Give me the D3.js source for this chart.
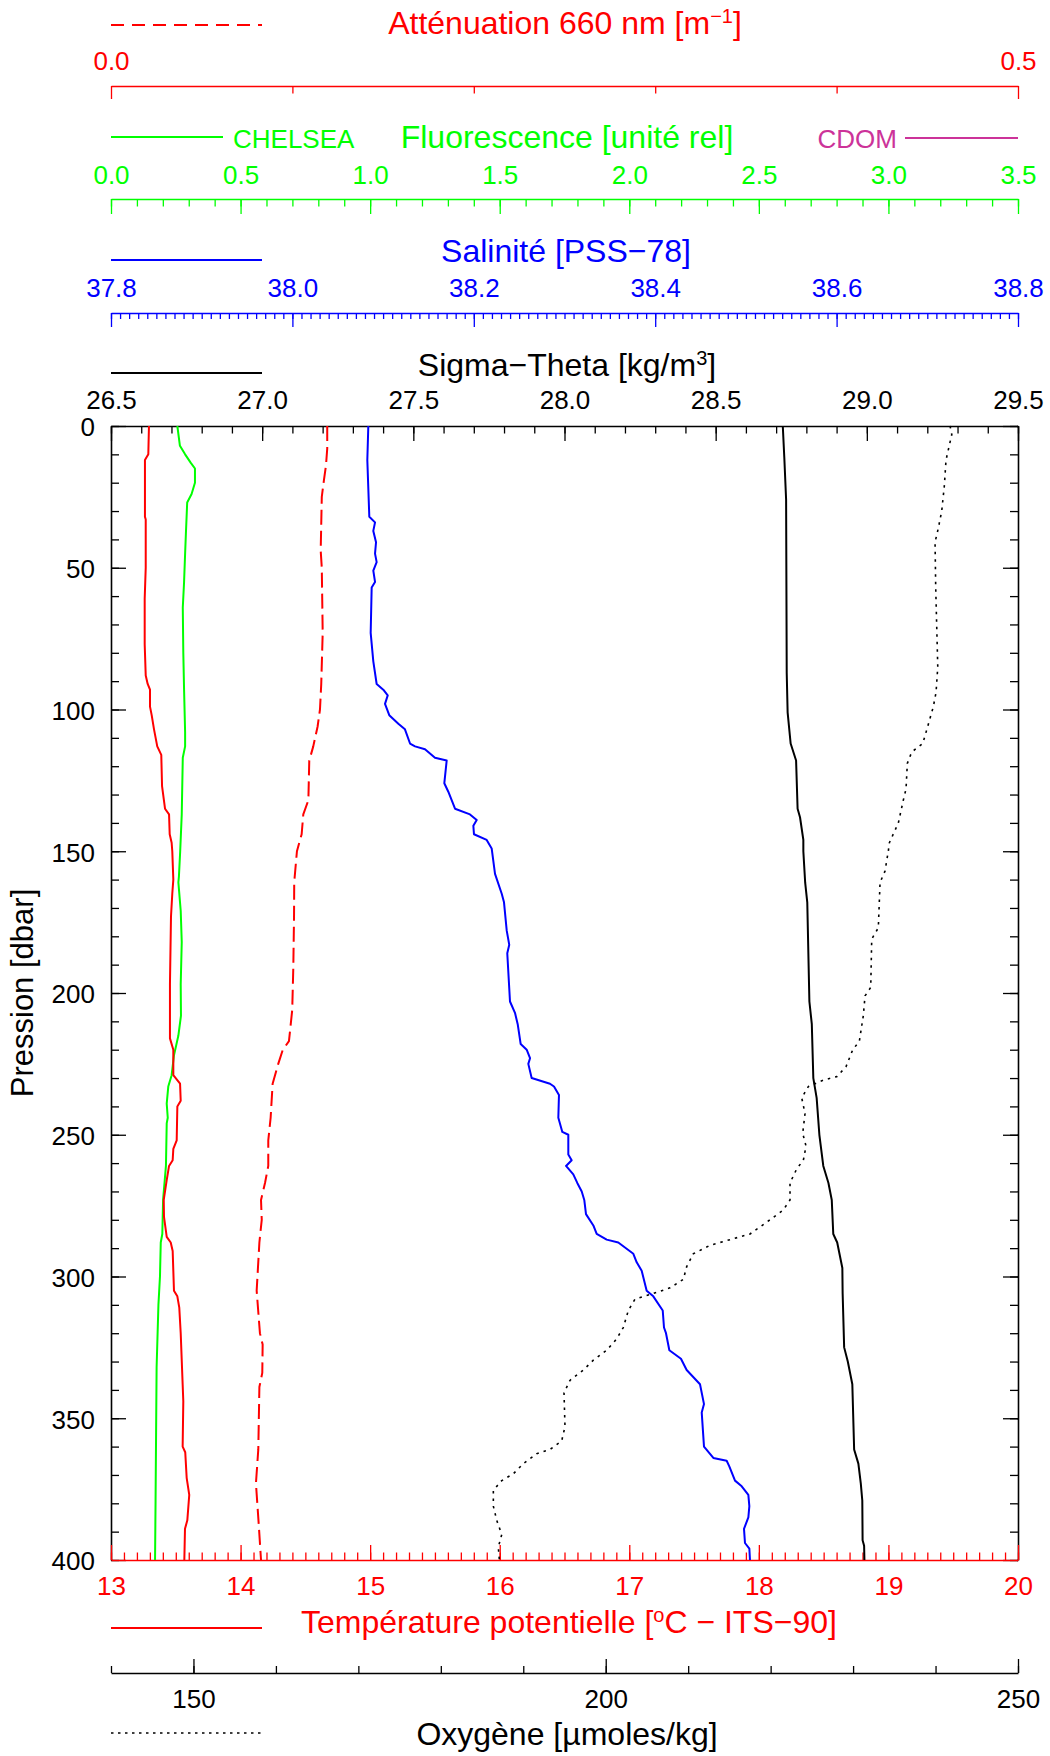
<!DOCTYPE html>
<html><head><meta charset="utf-8">
<script src="https://cdn.jsdelivr.net/npm/d3@7"></script>
<style>
html,body{margin:0;padding:0;background:#fff;}
svg text{font-family:"Liberation Sans",Arial,Helvetica,sans-serif;}
</style></head><body>
<svg id="chart" width="1050" height="1756"></svg>
<script>
// ---------- DATA: [pressure (dbar), value] ----------
const temperature = [[0,13.293],[10,13.288],[12,13.262],[32,13.262],[33,13.268],[50,13.268],[61,13.260],[77,13.260],[88,13.268],[91,13.283],[93,13.301],[99,13.301],[102,13.314],[107,13.332],[113,13.357],[116,13.388],[127,13.394],[135,13.417],[137,13.448],[144,13.453],[147,13.468],[150,13.473],[160,13.481],[165,13.473],[173,13.463],[197,13.455],[216,13.455],[220,13.481],[229,13.481],[232,13.533],[238,13.538],[240,13.512],[252,13.507],[255,13.481],[259,13.476],[261,13.448],[266,13.430],[273,13.407],[279,13.409],[286,13.430],[288,13.461],[291,13.476],[305,13.486],[307,13.512],[311,13.527],[320,13.538],[338,13.553],[344,13.558],[360,13.553],[362,13.573],[371,13.584],[377,13.604],[386,13.589],[389,13.571],[400,13.566]];
const fluorescence = [[0,0.256],[7,0.266],[10,0.286],[13,0.308],[15,0.324],[20,0.324],[24,0.311],[27,0.294],[38,0.289],[45,0.286],[55,0.282],[64,0.277],[80,0.279],[93,0.282],[108,0.286],[113,0.286],[117,0.277],[137,0.273],[150,0.267],[159,0.262],[161,0.260],[171,0.269],[182,0.273],[197,0.269],[208,0.270],[215,0.260],[222,0.243],[229,0.234],[233,0.221],[239,0.215],[244,0.219],[246,0.215],[261,0.212],[273,0.201],[285,0.198],[288,0.192],[300,0.189],[310,0.183],[332,0.176],[355,0.174],[379,0.172],[400,0.170]];
const attenuation = [[0,0.1192],[8,0.1192],[14,0.1185],[19,0.1174],[25,0.1162],[44,0.1156],[50,0.1162],[73,0.1167],[91,0.1159],[100,0.1152],[106,0.1139],[113,0.1115],[118,0.1093],[132,0.1088],[137,0.1060],[144,0.1051],[150,0.1025],[161,0.1010],[173,0.1009],[191,0.1005],[206,0.0999],[217,0.0981],[220,0.0947],[225,0.0922],[232,0.0891],[244,0.0880],[252,0.0867],[261,0.0867],[267,0.0849],[273,0.0827],[280,0.0831],[288,0.0818],[305,0.0803],[320,0.0821],[324,0.0836],[334,0.0834],[339,0.0818],[361,0.0812],[373,0.0799],[387,0.0814],[400,0.0827]];
const salinity = [[0,38.0837],[12,38.0826],[32,38.0848],[34,38.0911],[37,38.0892],[41,38.0922],[45,38.0911],[48,38.0929],[51,38.0892],[55,38.0911],[57,38.0874],[73,38.0863],[83,38.0892],[91,38.0929],[93,38.1002],[95,38.1051],[98,38.1021],[102,38.1068],[105,38.1168],[107,38.1241],[112,38.1297],[113,38.1352],[114,38.1462],[117,38.1572],[118,38.1701],[126,38.1675],[129,38.1719],[132,38.1756],[135,38.1793],[137,38.1958],[139,38.2032],[141,38.1995],[144,38.2002],[146,38.2142],[149,38.2197],[158,38.2234],[165,38.2308],[168,38.2333],[178,38.2363],[183,38.2391],[186,38.2369],[203,38.2399],[207,38.2454],[211,38.2484],[218,38.2517],[220,38.2583],[223,38.2620],[225,38.2601],[230,38.2638],[232,38.2840],[233,38.2884],[236,38.2939],[244,38.2932],[249,38.2976],[250,38.3042],[257,38.3042],[259,38.3079],[261,38.3017],[264,38.3097],[267,38.3141],[270,38.3190],[273,38.3218],[278,38.3237],[282,38.3318],[285,38.3355],[287,38.3465],[288,38.3593],[292,38.3759],[295,38.3796],[298,38.3851],[305,38.3906],[307,38.3979],[312,38.4083],[318,38.4097],[320,38.4119],[326,38.4156],[329,38.4284],[333,38.4347],[338,38.4494],[345,38.4538],[348,38.4513],[360,38.4538],[364,38.4641],[365,38.4788],[367,38.4817],[372,38.4880],[374,38.4954],[377,38.5027],[381,38.5038],[385,38.5027],[389,38.4979],[394,38.4990],[396,38.5038],[400,38.5045]];
const sigmaTheta = [[0,28.722],[11,28.727],[26,28.733],[87,28.735],[101,28.738],[112,28.748],[118,28.766],[135,28.771],[138,28.779],[146,28.790],[150,28.790],[161,28.796],[168,28.803],[203,28.810],[211,28.818],[230,28.823],[237,28.834],[250,28.843],[261,28.856],[267,28.873],[273,28.884],[285,28.889],[288,28.902],[297,28.919],[306,28.920],[325,28.925],[330,28.937],[338,28.952],[361,28.958],[366,28.972],[373,28.980],[379,28.985],[393,28.986],[395,28.991],[400,28.992]];
const oxygen = [[0,241.76],[3,241.97],[12,241.27],[21,241.07],[30,240.75],[36,240.34],[41,239.94],[57,240.02],[85,240.27],[94,240.06],[99,239.73],[106,239.05],[112,238.45],[115,237.11],[119,236.58],[128,236.42],[132,236.09],[140,235.49],[147,234.40],[150,234.27],[157,233.87],[161,233.27],[177,233.06],[181,232.26],[198,232.14],[201,231.45],[208,231.24],[217,230.76],[220,229.96],[226,229.14],[229.5,228.02],[230.7,226.39],[233,224.57],[237,223.77],[242.5,224.17],[249.5,223.89],[254,224.29],[259,223.97],[262,223.17],[267,222.35],[273,222.35],[276.5,221.54],[280,219.93],[285,217.50],[287,215.07],[289,212.65],[292,210.62],[296.5,209.82],[301,209.41],[304,207.80],[306,205.77],[308,203.55],[312,202.74],[318,202.13],[322,201.33],[326,200.12],[329.5,198.50],[333,197.28],[336.6,195.67],[341,194.94],[353,195.06],[358,194.66],[361,193.24],[362.5,191.63],[366,190.01],[369.6,188.79],[372,187.39],[375.4,186.37],[381,186.37],[386,186.78],[391,187.39],[395.5,186.97],[400,187.10]];

// ---------- TICK LABELS ----------
const pressureTicks = [0,50,100,150,200,250,300,350,400];
const sigmaTicks = [26.5,27.0,27.5,28.0,28.5,29.0,29.5];
const salinityTicks = [37.8,38.0,38.2,38.4,38.6,38.8];
const fluoTicks = [0,0.5,1.0,1.5,2.0,2.5,3.0,3.5];
const attTicks = [0,0.5];
const tempTicks = [13,14,15,16,17,18,19,20];
const oxyTicks = [150,200,250];

// ---------- LAYOUT ----------
const FONT = '"Liberation Sans",Arial,Helvetica,sans-serif';
const RED="#ff0000", GREEN="#00ff00", BLUE="#0000ff", BLACK="#000000", MAG="#cc3399";
const TS = 32; // title font size
const X0=111, X1=1018, Y0=426, Y1=1560;
const svg = d3.select("#chart");
svg.append("rect").attr("width",1050).attr("height",1756).attr("fill","#fff");

const y = d3.scaleLinear().domain([0,400]).range([Y0,Y1]);
const xSigma = d3.scaleLinear().domain([26.5,29.5]).range([X0,X1]);
const xSal = d3.scaleLinear().domain([37.8,38.8]).range([X0,X1]);
const xFluo = d3.scaleLinear().domain([0,3.5]).range([X0,X1]);
const xAtt = d3.scaleLinear().domain([0,0.5]).range([X0,X1]);
const xTemp = d3.scaleLinear().domain([13,20]).range([X0,X1]);
const xOxy = d3.scaleLinear().domain([140,250]).range([X0,X1]);

function styleAxis(g, color, size){
  g.attr("font-size", size||26).attr("font-family", FONT).style("color", color);
  g.selectAll(".tick line").attr("stroke-width",1.3);
  g.selectAll(".domain").attr("stroke-width",1.6);
}
function hAxis(scale, ypos, dir, major, minor, majLen, minLen, color, fmt, pad){
  const mk = dir==="top" ? d3.axisTop : d3.axisBottom;
  const gMin = svg.append("g").attr("transform",`translate(0,${ypos})`)
    .call(mk(scale).tickValues(minor).tickSizeInner(-minLen).tickSizeOuter(0).tickFormat(""));
  gMin.select(".domain").remove();
  styleAxis(gMin,color);
  const gMaj = svg.append("g").attr("transform",`translate(0,${ypos})`)
    .call(mk(scale).tickValues(major).tickSizeInner(-majLen).tickSizeOuter(0).tickPadding(pad).tickFormat(fmt));
  styleAxis(gMaj,color);
  return gMaj;
}
const f1 = d3.format(".1f"), fd = d3.format("d");
const rng = (a,b,step) => d3.range(Math.round((b-a)/step)+1).map(i => +(a+i*step).toFixed(4));

// Attenuation axis
hAxis(xAtt, 86, "top", attTicks, [0.1,0.2,0.3,0.4], 13, 7.5, RED, f1, 16);
// Fluorescence axis
hAxis(xFluo, 199, "top", fluoTicks, rng(0,3.5,0.1), 15, 7.5, GREEN, f1, 15);
// Salinity axis
hAxis(xSal, 313, "top", salinityTicks, rng(37.8,38.8,0.01), 14, 6, BLUE, f1, 16);
// Sigma axis (top of frame)
hAxis(xSigma, Y0, "top", sigmaTicks, rng(26.5,29.5,0.1), 15, 7.5, BLACK, f1, 17);

// Pressure axes (left with labels, right without)
function vAxis(xpos, dir, labels){
  const mk = dir==="left" ? d3.axisLeft : d3.axisRight;
  const gMin = svg.append("g").attr("transform",`translate(${xpos},0)`)
    .call(mk(y).tickValues(rng(0,400,10)).tickSizeInner(-8).tickSizeOuter(0).tickFormat(""));
  gMin.select(".domain").remove(); styleAxis(gMin,BLACK);
  const gMaj = svg.append("g").attr("transform",`translate(${xpos},0)`)
    .call(mk(y).tickValues(pressureTicks).tickSizeInner(-15).tickSizeOuter(0).tickPadding(16).tickFormat(labels?fd:""));
  styleAxis(gMaj,BLACK);
  gMaj.selectAll(".tick text").attr("dy","0.38em");
}
vAxis(X0,"left",true);
vAxis(X1,"right",false);

// Temperature axis (bottom of frame)
hAxis(xTemp, Y1, "bottom", tempTicks, rng(13,20,0.1), 15, 7.5, RED, fd, 16.5);
// Oxygen axis
hAxis(xOxy, 1673, "bottom", oxyTicks, rng(140,250,10), 14, 7, BLACK, fd, 16.5);

// ---------- CURVES ----------
const plot = svg.append("g");
function curve(data, xs, color, dash, w){
  plot.append("path").datum(data)
    .attr("fill","none").attr("stroke",color).attr("stroke-width",w||2)
    .attr("stroke-dasharray",dash||null).attr("stroke-linejoin","round")
    .attr("d", d3.line().x(d=>xs(d[1])).y(d=>y(d[0])));
}
curve(fluorescence, xFluo, GREEN);
curve(temperature, xTemp, RED);
curve(attenuation, xAtt, RED, "15,6");
curve(salinity, xSal, BLUE);
curve(sigmaTheta, xSigma, BLACK);
curve(oxygen, xOxy, BLACK, "2.5,5", 1.6);

// ---------- LEGENDS & TITLES ----------
function legLine(x1,x2,yy,color,dash,w){
  svg.append("line").attr("x1",x1).attr("x2",x2).attr("y1",yy).attr("y2",yy)
    .attr("stroke",color).attr("stroke-width",w||2).attr("stroke-dasharray",dash||null);
}
function title(x,yy,color,parts,size){
  const t = svg.append("text").attr("x",x).attr("y",yy).attr("text-anchor","middle")
    .attr("fill",color).attr("font-size",size||TS);
  parts.forEach(p=>{
    if (typeof p === "string") t.append("tspan").text(p);
    else t.append("tspan").attr("dy",p.dy).attr("font-size",p.fs).text(p.t);
  });
  return t;
}
legLine(X0,262,25,RED,"13,8");
title(565,34,RED,["Atténuation 660 nm [m",{t:"−1",dy:-11,fs:20},{t:"]",dy:11,fs:TS}]);

legLine(X0,223,137,GREEN);
svg.append("text").attr("x",233).attr("y",148).attr("fill",GREEN).attr("font-size",26).text("CHELSEA");
title(567,148,GREEN,["Fluorescence [unité rel]"]);
svg.append("text").attr("x",897).attr("y",148).attr("text-anchor","end").attr("fill",MAG).attr("font-size",26).text("CDOM");
legLine(905,X1,138,MAG);

legLine(X0,262,260,BLUE);
title(566,262,BLUE,["Salinité [PSS−78]"]);

legLine(X0,262,373,BLACK);
title(567,376,BLACK,["Sigma−Theta [kg/m",{t:"3",dy:-11,fs:20},{t:"]",dy:11,fs:TS}]);

legLine(X0,262,1628,RED);
title(569,1633,RED,["Température potentielle [",{t:"o",dy:-11,fs:20},{t:"C − ITS−90]",dy:11,fs:TS}]);

legLine(X0,262,1733,BLACK,"2.5,4.5",1.6);
title(567,1745,BLACK,["Oxygène [µmoles/kg]"]);

svg.append("text").attr("transform","translate(33,993) rotate(-90)")
  .attr("text-anchor","middle").attr("fill",BLACK).attr("font-size",31).text("Pression [dbar]");
</script>
</body></html>
